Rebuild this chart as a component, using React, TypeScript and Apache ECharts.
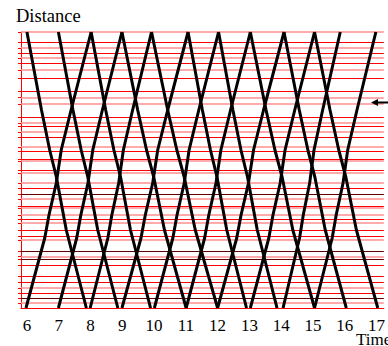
import React, { useEffect, useRef } from "react";
import * as echarts from "echarts";

// Stations: distance (km along the line) and rank
const stationKm = [276, 266, 260, 255, 250, 244.5, 238, 229.5, 217, 210.5, 204, 191, 185, 182, 176, 171, 161, 157, 149, 147, 138, 135, 125, 120, 114, 109, 102, 100, 93, 89, 85, 78, 72, 68, 56.5, 51.5, 49, 42.5, 32, 26, 20, 15, 10, 5];
const stationRank = ["minor", "major", "minor", "major", "minor", "major", "minor", "major", "major", "minor", "minor", "major", "minor", "major", "minor", "major", "minor", "major", "major", "minor", "major", "minor", "minor", "major", "halt", "minor", "major", "minor", "minor", "major", "minor", "major", "major", "minor", "halt", "minor", "halt", "major", "major", "major", "minor", "major", "halt", "minor"];

// Time tick labels (hours)
const hourLabels = [6, 7, 8, 9, 10, 11, 12, 13, 14, 15, 16, 17];

// Upward trips (from km 0 to the far end): departure / arrival times (h)
const upDep = [5.97, 6.99, 7.99, 8.99, 10.01, 11.01, 12.0, 13.03, 14.06, 15.05];
const upArr = [8.02, 8.99, 9.92, 11.07, 12.03, 13.03, 14.09, 15.05, 15.86, 16.98];
// Downward trips (from the far end to km 0)
const downDep = [6.0, 6.99, 8.02, 8.99, 9.92, 11.07, 12.03, 13.03, 14.09, 15.05];
const downArr = [7.87, 8.86, 9.89, 11.01, 12.0, 12.91, 13.87, 15.05, 16.05, 17.04];

// Running-time profile (share of trip time reached at each km)
const upKm = [0, 70, 93, 125, 158, 198, 276];
const upShare = [0, 0.288, 0.353, 0.465, 0.541, 0.692, 1];
const downKm = [276, 198, 158, 131, 78, 0];
const downShare = [0, 0.245, 0.383, 0.495, 0.662, 1];

const rankColor: Record<string, string> = { major: "#ff0000", minor: "#ff8f8f", halt: "#600000" };
const rankWidth: Record<string, number> = { major: 1, minor: 1.6, halt: 1 };

export default function App() {
  const ref = useRef<HTMLDivElement>(null);
  useEffect(() => {
    if (!ref.current) return;
    const chart = echarts.init(ref.current, undefined, { renderer: "svg" });
    const trips: any[] = [];
    upDep.forEach((d, i) => {
      const dur = upArr[i] - d;
      trips.push({
        type: "line",
        silent: true,
        showSymbol: false,
        symbol: "none",
        z: 5,
        lineStyle: { color: "#000", width: 3 },
        data: upKm.map((km, j) => [d + dur * upShare[j], km]),
      });
    });
    downDep.forEach((d, i) => {
      const dur = downArr[i] - d;
      trips.push({
        type: "line",
        silent: true,
        showSymbol: false,
        symbol: "none",
        z: 5,
        lineStyle: { color: "#000", width: 3 },
        data: downKm.map((km, j) => [d + dur * downShare[j], km]),
      });
    });
    const option: any = {
      animation: false,
      grid: { left: 21, right: 0, top: 32, bottom: 38 },
      xAxis: {
        type: "value",
        min: 5.813,
        max: 17.23,
        axisLine: { lineStyle: { color: "#ff0000", width: 1 } },
        axisTick: { show: false },
        splitLine: { show: false },
        axisLabel: {
          customValues: hourLabels,
          color: "#000",
          fontFamily: "Liberation Serif",
          fontSize: 17,
          margin: 9,
        },
      },
      yAxis: {
        type: "value",
        min: 0,
        max: 276,
        axisLine: { show: true, lineStyle: { color: "#ff0000", width: 1 } },
        axisTick: {
          show: true,
          customValues: stationKm,
          length: 3,
          lineStyle: { color: "#ff0000" },
        },
        axisLabel: { show: false },
        splitLine: { show: false },
      },
      series: [
        {
          type: "line",
          data: [],
          silent: true,
          z: 1,
          markLine: {
            silent: true,
            symbol: ["none", "none"],
            label: { show: false },
            animation: false,
            data: stationKm.map((km, i) => ({
              yAxis: km,
              lineStyle: { color: rankColor[stationRank[i]], width: rankWidth[stationRank[i]], type: "solid" },
            })),
          },
        },
        ...trips,
      ],
      graphic: [
        {
          type: "text",
          left: 16,
          top: 6,
          style: { text: "Distance", fontFamily: "Liberation Serif", fontSize: 18.5, fill: "#000" },
        },
        {
          type: "text",
          left: 356,
          top: 331,
          style: { text: "Time", fontFamily: "Liberation Serif", fontSize: 17, fill: "#000" },
        },
        {
          type: "line",
          shape: { x1: 377, y1: 102.5, x2: 392, y2: 102.5 },
          style: { stroke: "#000", lineWidth: 2 },
          z: 10,
        },
        {
          type: "polygon",
          shape: { points: [[371, 102.5], [378, 99], [378, 106]] },
          style: { fill: "#000" },
          z: 10,
        },
      ],
    };
    chart.setOption(option);
    return () => chart.dispose();
  }, []);
  return (
    <div
      ref={ref}
      style={{ position: "fixed", left: 0, top: 0, width: 388, height: 346, background: "#fff" }}
    />
  );
}
